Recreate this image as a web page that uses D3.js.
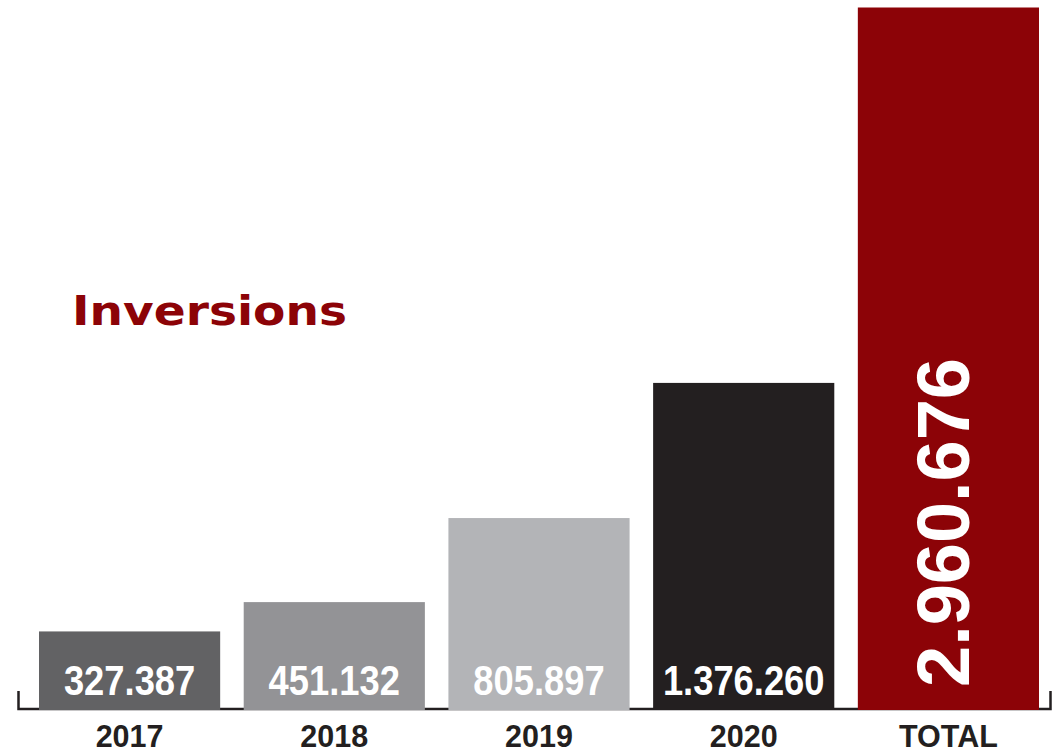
<!DOCTYPE html>
<html>
<head>
<meta charset="utf-8">
<script src="https://cdn.jsdelivr.net/npm/d3@7/dist/d3.min.js"></script>
<style>
  html, body { margin: 0; padding: 0; background: #ffffff; }
  svg { display: block; }
</style>
</head>
<body>
<svg id="chart" width="1058" height="755"></svg>
<script>
// ---- data ----
const categories = ["2017", "2018", "2019", "2020", "TOTAL"];
const values = [327387, 451132, 805897, 1376260, 2960676];
const valueLabels = ["327.387", "451.132", "805.897", "1.376.260", "2.960.676"];
const barColors = ["#626264", "#939396", "#b3b4b7", "#231f20", "#8c0307"];
const title = "Inversions";

// ---- layout ----
const baseY = 709;
const svg = d3.select("#chart");

const x = d3.scaleBand()
  .domain(categories)
  .range([39, 1039])
  .paddingInner(0.115)
  .paddingOuter(0);

const y = d3.scaleLinear()
  .domain([0, d3.max(values)])
  .range([baseY, 7.5]);

const data = categories.map((c, i) => ({ cat: c, value: values[i], label: valueLabels[i], color: barColors[i] }));

// axis line with end ticks
svg.append("path")
  .attr("d", `M18.5,691 V${baseY} H1050.5 V691`)
  .attr("fill", "none")
  .attr("stroke", "#231f20")
  .attr("stroke-width", 2.5);

// bars
svg.append("g").selectAll("rect")
  .data(data)
  .join("rect")
  .attr("x", d => x(d.cat))
  .attr("y", d => y(d.value))
  .attr("width", x.bandwidth())
  .attr("height", d => baseY + 1 - y(d.value))
  .attr("fill", d => d.color);

// category labels (bottom axis)
const xAxis = d3.axisBottom(x).tickSize(0).tickPadding(0);
const gx = svg.append("g")
  .attr("transform", `translate(0,${baseY})`)
  .call(xAxis);
gx.select(".domain").remove();
gx.selectAll("text")
  .attr("dy", null)
  .attr("y", 38)
  .attr("fill", "#231f20")
  .style("font-family", "'Liberation Sans', Arial, Helvetica, sans-serif")
  .style("font-weight", "bold")
  .style("font-size", "30.5px");

// value labels (horizontal for years)
const horiz = data.filter(d => d.cat !== "TOTAL");
const vl = svg.append("g").selectAll("text")
  .data(horiz)
  .join("text")
  .attr("x", d => x(d.cat) + x.bandwidth() / 2)
  .attr("y", 695)
  .attr("text-anchor", "middle")
  .attr("fill", "#ffffff")
  .style("font-family", "'Liberation Sans', Arial, Helvetica, sans-serif")
  .style("font-weight", "bold")
  .style("font-size", "43px")
  .text(d => d.label);
vl.each(function() {
  const len = this.getComputedTextLength();
  d3.select(this).attr("textLength", len * 0.845).attr("lengthAdjust", "spacingAndGlyphs");
});

// rotated total label
const tot = data.find(d => d.cat === "TOTAL");
svg.append("text")
  .attr("transform", `translate(${969},${687}) rotate(-90)`)
  .attr("text-anchor", "start")
  .attr("fill", "#ffffff")
  .attr("textLength", 329)
  .attr("lengthAdjust", "spacingAndGlyphs")
  .style("font-family", "'Liberation Sans', Arial, Helvetica, sans-serif")
  .style("font-weight", "bold")
  .style("font-size", "75px")
  .text(tot.label);

// title
svg.append("text")
  .attr("x", 72)
  .attr("y", 325)
  .attr("fill", "#8c0307")
  .attr("textLength", 275)
  .attr("lengthAdjust", "spacingAndGlyphs")
  .style("font-family", "'DejaVu Sans', sans-serif")
  .style("font-weight", "bold")
  .style("font-size", "41px")
  .text(title);
</script>
</body>
</html>
